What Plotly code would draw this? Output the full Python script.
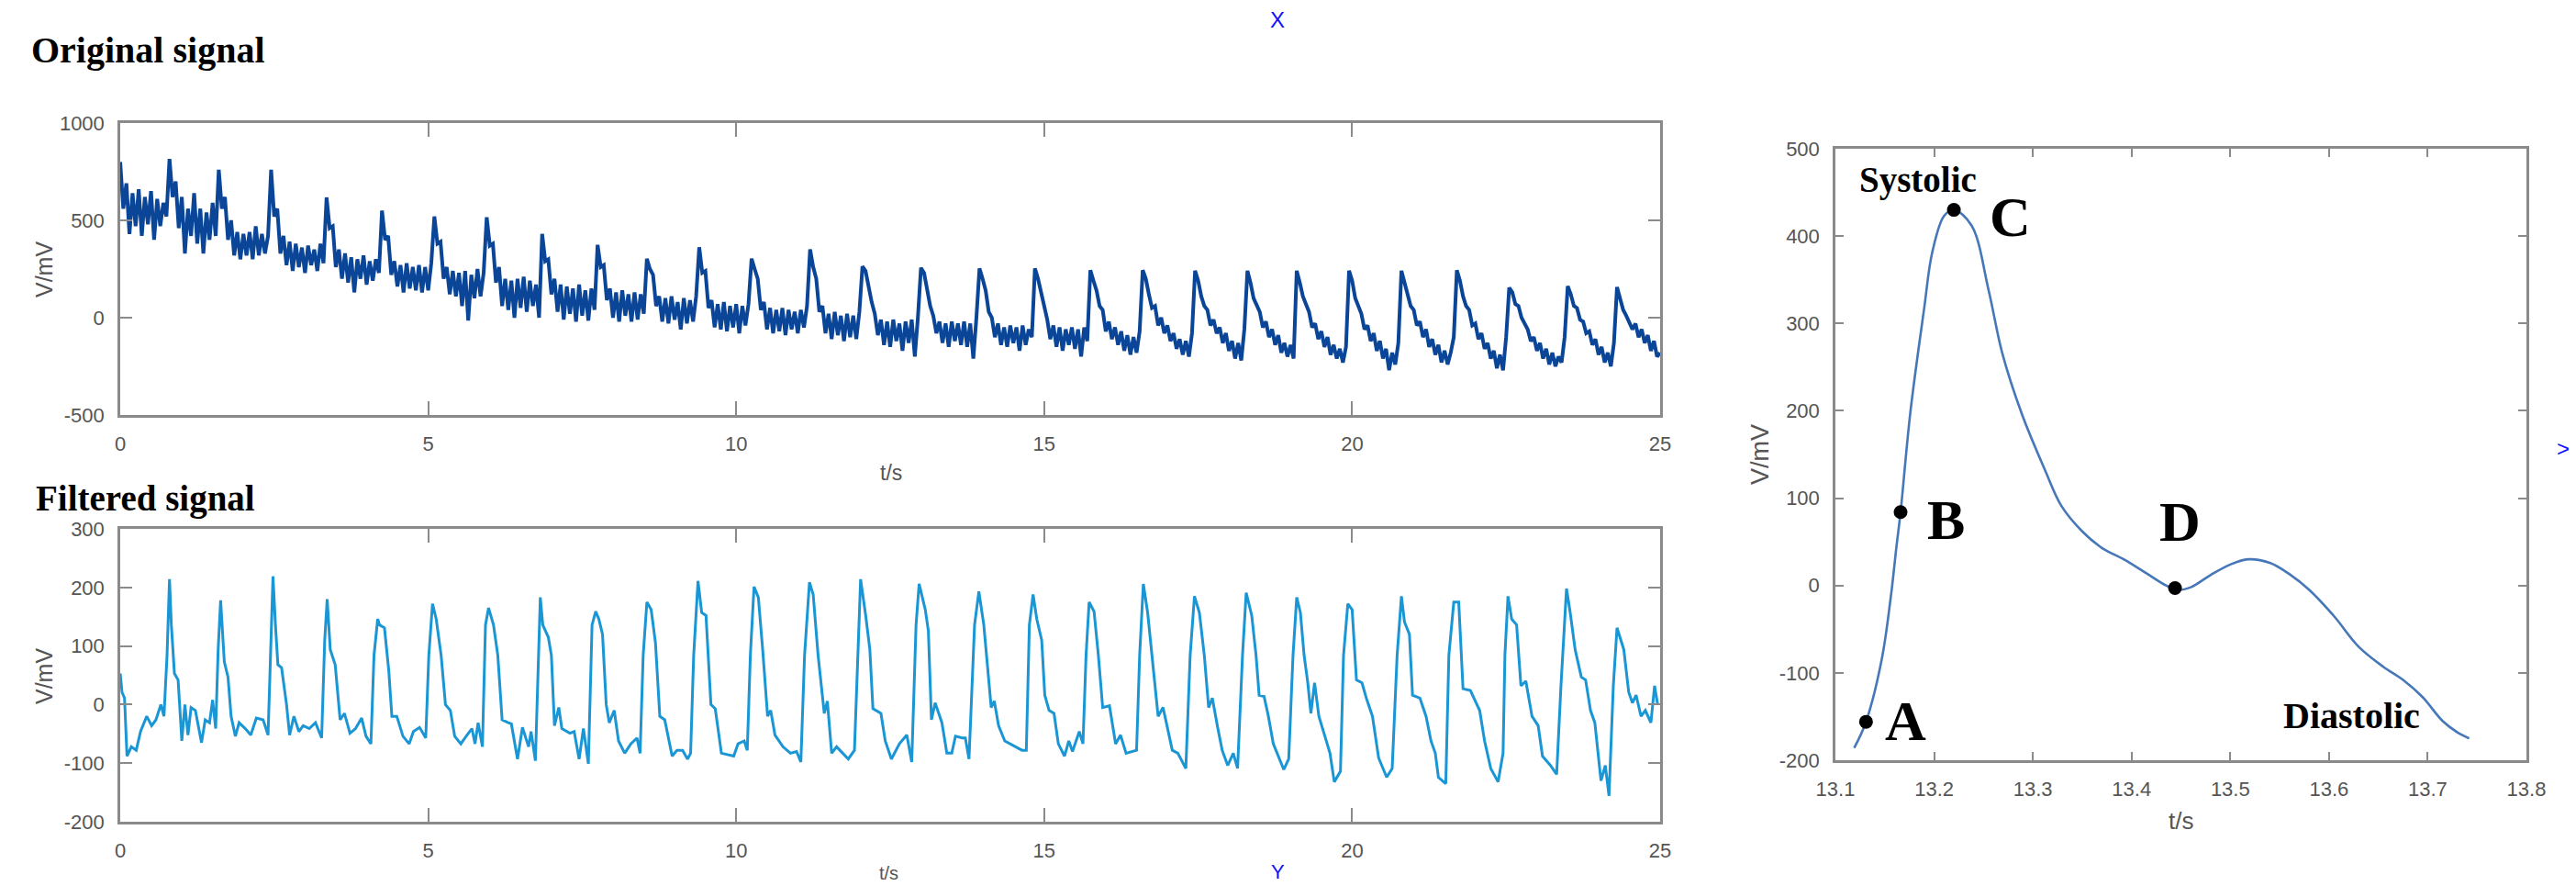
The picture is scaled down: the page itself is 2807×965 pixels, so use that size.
import plotly.graph_objects as go

W, H = 2807, 965

# ---------------- data ----------------
# Original signal: samples every 0.05 s from 0 to 25 s (V/mV)
orig_step = 0.05
orig_v = [
    800, 560, 690, 430, 640, 470, 660, 420, 620, 480, 650, 400, 610, 470, 590, 520,
    815, 620, 700, 460, 620, 330, 560, 420, 640, 380, 560, 330, 540, 400, 590, 420,
    760, 560, 620, 400, 500, 320, 440, 300, 430, 320, 440, 300, 470, 320, 430, 330, 420,
    760, 520, 560, 330, 420, 270, 390, 240, 380, 260, 360, 230, 370, 270, 350, 240, 380, 280,
    618, 460, 470, 260, 350, 200, 330, 180, 310, 130, 300, 200, 320, 170, 290, 190, 300, 230,
    550, 400, 420, 220, 290, 160, 270, 130, 280, 150, 260, 140, 270, 130, 260, 140, 280,
    520, 380, 390, 200, 260, 120, 240, 110, 230, 60, 240, -15, 220, 100, 250, 110, 230,
    516, 370, 380, 180, 260, 60, 200, 40, 190, 0, 200, 50, 210, 30, 190, 60, 170, 0,
    430, 290, 300, 120, 200, 30, 170, -10, 160, 20, 150, -20, 170, 10, 140, -15, 150, 40,
    374, 260, 270, 90, 150, 0, 130, -20, 140, 10, 120, -20, 130, -10, 120, 20,
    303, 250, 220, 60, 110, -20, 100, -30, 110, -10, 80, -60, 100, -30, 90, -20, 110,
    362, 230, 240, 50, 90, -50, 70, -60, 80, -70, 60, -50, 70, -80, 60, -40, 70,
    303, 250, 200, 40, 80, -60, 50, -80, 40, -70, 50, -90, 40, -60, 30, -80, 40, -50, 60,
    351, 260, 200, 30, 60, -80, 20, -110, 30, -90, 10, -120, 20, -100, 10, -110, 30,
    264, 240, 150, 80, 20, -90, -10, -140, -20, -150, -10, -120, -30, -170, -20, -130, -10, -200, 0,
    256, 230, 150, 60, 10, -80, -20, -130, -30, -150, -20, -120, -30, -140, -20, -150, -30, -210, 0,
    253, 200, 140, 30, 0, -100, -30, -140, -50, -150, -40, -130, -50, -170, -40, -140, -60, -100,
    253, 200, 130, 40, -10, -110, -40, -150, -50, -170, -60, -140, -50, -160, -60, -200, -50, -120,
    244, 190, 140, 60, 40, -70, -20, -110, -50, -140, -70, -170, -90, -190, -100, -180, -70,
    244, 200, 120, 50, 60, -40, 0, -80, -40, -120, -80, -160, -110, -190, -120, -200, -80,
    241, 190, 110, 60, 40, -40, -10, -80, -50, -130, -80, -170, -120, -210, -130, -220, -60,
    241, 180, 100, 60, 30, -50, -20, -100, -60, -140, -90, -180, -130, -200, -140, -210,
    241, 180, 110, 70, 30, -50, -30, -110, -70, -150, -100, -190, -140, -210, -160, -230, -150,
    241, 190, 100, 60, 20, -60, -40, -120, -80, -170, -120, -210, -160, -270, -180, -240, -130,
    241, 180, 110, 60, 40, -40, -20, -100, -60, -150, -110, -190, -140, -230, -170, -240, -180, -100,
    244, 190, 110, 60, 40, -40, -30, -110, -80, -160, -130, -210, -170, -260, -190, -270, -100,
    154, 130, 70, 60, 0, -30, -60, -120, -100, -170, -130, -210, -160, -240, -180, -250, -200, -230, -100,
    162, 120, 60, 50, -10, -20, -80, -70, -140, -110, -190, -150, -230, -180, -250, -130,
    157, 100, 40, 10, -20, -60, -30, -100, -60, -130, -90, -170, -120, -200, -180,
]
orig_t = [round(i * orig_step, 2) for i in range(len(orig_v))]

# Filtered signal: time (s) and value (V/mV), one row per beat
filt_t = [
    0.00, 0.03, 0.07, 0.11, 0.18, 0.26, 0.33, 0.43, 0.51, 0.58, 0.66, 0.71,
    0.76, 0.80, 0.83, 0.88, 0.94, 1.00, 1.05, 1.10, 1.15, 1.22, 1.32, 1.38, 1.45, 1.50, 1.55,
    1.59, 1.63, 1.69, 1.75, 1.80, 1.87, 1.93, 2.03, 2.12, 2.21, 2.32, 2.40,
    2.45, 2.48, 2.52, 2.56, 2.62, 2.70, 2.75, 2.82, 2.90, 2.97, 3.07, 3.17, 3.27,
    3.32, 3.36, 3.41, 3.49, 3.57, 3.64, 3.73, 3.82, 3.92, 3.99, 4.07,
    4.12, 4.18, 4.21, 4.29, 4.36, 4.41, 4.49, 4.59, 4.69, 4.76, 4.86, 4.96,
    5.01, 5.07, 5.13, 5.21, 5.28, 5.36, 5.43, 5.53, 5.63, 5.71, 5.76, 5.81, 5.88,
    5.93, 5.98, 6.06, 6.13, 6.20, 6.30, 6.35, 6.45, 6.53, 6.63, 6.67, 6.74,
    6.78, 6.82, 6.86, 6.95, 7.00, 7.05, 7.12, 7.17, 7.30, 7.37, 7.45, 7.52, 7.60,
    7.66, 7.72, 7.77, 7.83, 7.89, 7.94, 8.02, 8.09, 8.19, 8.29, 8.39, 8.44,
    8.49, 8.55, 8.62, 8.69, 8.76, 8.84, 8.96, 9.04, 9.13, 9.21, 9.26,
    9.31, 9.38, 9.44, 9.51, 9.59, 9.66, 9.76, 9.86, 9.96, 10.03, 10.13, 10.18,
    10.23, 10.29, 10.36, 10.43, 10.51, 10.56, 10.63, 10.76, 10.88, 10.98, 11.05,
    11.11, 11.19, 11.25, 11.33, 11.43, 11.48, 11.55, 11.63, 11.73, 11.82, 11.92,
    11.97, 12.02, 12.10, 12.17, 12.22, 12.35, 12.42, 12.52, 12.65, 12.77, 12.85,
    12.92, 12.97, 13.07, 13.12, 13.17, 13.23, 13.29, 13.34, 13.42, 13.50, 13.56, 13.67, 13.72, 13.78,
    13.87, 13.94, 14.02, 14.09, 14.14, 14.19, 14.26, 14.36, 14.51, 14.64, 14.71,
    14.76, 14.82, 14.88, 14.96, 15.01, 15.08, 15.16, 15.23, 15.33, 15.40, 15.46, 15.57, 15.63,
    15.68, 15.73, 15.81, 15.88, 15.95, 16.06, 16.16, 16.24, 16.33, 16.50,
    16.55, 16.61, 16.68, 16.75, 16.85, 16.93, 17.00, 17.08, 17.17, 17.30,
    17.37, 17.44, 17.52, 17.60, 17.67, 17.73, 17.82, 17.89, 17.98, 18.07, 18.14,
    18.22, 18.28, 18.37, 18.44, 18.49, 18.57, 18.64, 18.72, 18.82, 18.89, 18.97,
    19.04, 19.10, 19.16, 19.22, 19.28, 19.33, 19.39, 19.46, 19.56, 19.64, 19.71, 19.81,
    19.86, 19.93, 20.00, 20.07, 20.16, 20.23, 20.33, 20.43, 20.56, 20.65,
    20.73, 20.80, 20.85, 20.93, 20.98, 21.10, 21.20, 21.28, 21.35, 21.40, 21.52,
    21.57, 21.65, 21.73, 21.80, 21.92, 22.07, 22.15, 22.25, 22.37, 22.45,
    22.48, 22.53, 22.59, 22.67, 22.74, 22.82, 22.92, 23.02, 23.09, 23.22, 23.32,
    23.39, 23.48, 23.54, 23.62, 23.72, 23.79, 23.87, 23.94, 24.04, 24.11, 24.17,
    24.24, 24.30, 24.36, 24.41, 24.49, 24.55, 24.61, 24.69, 24.76, 24.85, 24.91, 24.96,
]
filt_v = [
    53, 21, 11, -88, -72, -78, -46, -20, -36, -26, 0, -20,
    84, 214, 136, 53, 42, -62, 0, -52, -5, -10, -65, -26, -31, 8, -41,
    94, 178, 73, 47, -20, -54, -31, -41, -52, -23, -26, -52,
    110, 219, 136, 68, 63, 0, -52, -20, -46, -36, -41, -31, -57,
    110, 180, 94, 68, -26, -15, -49, -41, -23, -54, -67,
    84, 146, 136, 131, 58, -20, -20, -54, -67, -46, -39, -57,
    84, 172, 146, 84, 0, -10, -54, -67, -52, -41, -67, -31, -72,
    136, 165, 136, 84, -26, -31, -33, -93, -39, -72, -46, -96,
    60, 183, 136, 115, 84, -36, -5, -41, -49, -46, -93, -41, -101,
    136, 159, 146, 120, 0, -31, -10, -62, -83, -67, -57, -83,
    84, 175, 162, 105, -20, -26, -88, -78, -78, -93, -83,
    84, 211, 157, 152, 0, -7, -83, -85, -88, -67, -62, -78,
    84, 201, 183, 94, -20, -10, -52, -72, -83, -80, -98,
    84, 209, 188, 84, -15, 6, -83, -72, -83, -93, -78,
    84, 214, 154, 94, -7, -15, -62, -93, -67, -52, -98,
    136, 206, 162, 126, -26, 3, -15, -31, -83, -83, -54, -57, -57, -93,
    136, 193, 136, 58, -5, 6, -36, -62, -70, -78, -78,
    136, 188, 146, 110, 16, -10, -15, -67, -88, -62, -80, -46, -67,
    84, 175, 159, 84, -5, -2, -67, -52, -83, -78,
    84, 206, 157, 84, -20, -5, -41, -78, -83, -109,
    84, 185, 157, 84, -5, 11, -41, -78, -104, -83, -109,
    84, 191, 152, 84, 16, 14, -20, -67, -93, -111, -93,
    84, 183, 157, 84, 37, -15, 37, -20, -57, -83, -132, -114,
    84, 172, 162, 42, 37, 11, -20, -91, -124, -109,
    84, 185, 141, 120, 16, 11, -20, -62, -83, -124, -135,
    84, 175, 175, 27, 24, -10, -62, -109, -132, -83,
    84, 185, 146, 136, 32, 40, -20, -36, -88, -104, -119,
    32, 198, 157, 94, 47, 42, -10, -31, -130, -104, -156,
    32, 131, 110, 94, 21, 3, 16, -20, -10, -31, 32, 0,
]

# Single pulse (right panel)
pulse_t = [13.119, 13.131, 13.147, 13.156, 13.162, 13.166, 13.176, 13.190, 13.198, 13.210,
           13.220, 13.238, 13.255, 13.269, 13.289, 13.312, 13.329, 13.350, 13.370, 13.392,
           13.415, 13.435, 13.446, 13.460, 13.480, 13.500, 13.518, 13.540, 13.560, 13.580,
           13.605, 13.630, 13.655, 13.675, 13.695, 13.715, 13.730, 13.742]
pulse_v = [-186, -156, -84, -14, 46, 84, 199, 318, 381, 423,
           430, 412, 339, 266, 196, 133, 91, 62, 43, 30,
           14, 0, -5, -2, 12, 24, 30, 26, 13, -5,
           -35, -70, -93, -108, -128, -155, -168, -175]

point_names = ["A", "B", "C", "D"]
point_t = [13.131, 13.166, 13.220, 13.444]
point_v = [-156, 84, 430, -3]

# tick labels
main_x_ticks = [0, 5, 10, 15, 20, 25]
orig_y_ticks = [-500, 0, 500, 1000]
orig_y_text = ["-500", "0", "500", "1000"]
filt_y_ticks = [-200, -100, 0, 100, 200, 300]
filt_y_text = ["-200", "-100", "0", "100", "200", "300"]
pulse_x_ticks = [13.1, 13.2, 13.3, 13.4, 13.5, 13.6, 13.7, 13.8]
pulse_x_text = ["13.1", "13.2", "13.3", "13.4", "13.5", "13.6", "13.7", "13.8"]
pulse_y_ticks = [-200, -100, 0, 100, 200, 300, 400, 500]
pulse_y_text = ["-200", "-100", "0", "100", "200", "300", "400", "500"]

assert len(filt_t) == len(filt_v)
assert len(pulse_t) == len(pulse_v)

# ---------------- figure ----------------
def px(x):
    return x / W


def py(y):
    return 1 - y / H


SANS = "Liberation Sans, Arial, sans-serif"
SERIF = "Liberation Serif, Times New Roman, serif"
GRAY = "#8a8a8a"
TXT = "#555555"

fig = go.Figure()
fig.add_trace(go.Scatter(x=orig_t, y=orig_v, mode="lines",
                         line=dict(color="#0a4598", width=4),
                         xaxis="x", yaxis="y", hoverinfo="skip"))
fig.add_trace(go.Scatter(x=filt_t, y=filt_v, mode="lines",
                         line=dict(color="#1a96d4", width=3),
                         xaxis="x2", yaxis="y2", hoverinfo="skip"))
fig.add_trace(go.Scatter(x=pulse_t, y=pulse_v, mode="lines",
                         line=dict(color="#4677b8", width=2.6, shape="spline"),
                         xaxis="x3", yaxis="y3", hoverinfo="skip"))
fig.add_trace(go.Scatter(x=point_t, y=point_v, mode="markers",
                         marker=dict(color="black", size=15),
                         xaxis="x3", yaxis="y3", hoverinfo="skip"))

AX = dict(showline=True, mirror="ticks", linecolor=GRAY, linewidth=2.5,
          ticks="inside", tickcolor=GRAY, tickwidth=2,
          showgrid=False, zeroline=False, automargin=False,
          tickfont=dict(family=SANS, size=22, color=TXT))

fig.update_layout(
    width=W, height=H, margin=dict(l=0, r=0, t=0, b=0, autoexpand=False),
    paper_bgcolor="white", plot_bgcolor="white", showlegend=False,
    xaxis=dict(domain=[px(131), px(1809)], range=[0, 25], anchor="y",
               tickvals=main_x_ticks, ticklen=15, ticklabelstandoff=10, **AX),
    yaxis=dict(domain=[py(452), py(134)], range=[-500, 1000], anchor="x",
               tickvals=orig_y_ticks, ticktext=orig_y_text, ticklen=13,
               ticklabelstandoff=10, **AX),
    xaxis2=dict(domain=[px(131), px(1809)], range=[0, 25], anchor="y2",
                tickvals=main_x_ticks, ticklen=15, ticklabelstandoff=10, **AX),
    yaxis2=dict(domain=[py(895), py(576)], range=[-200, 300], anchor="x2",
                tickvals=filt_y_ticks, ticktext=filt_y_text, ticklen=13,
                ticklabelstandoff=10, **AX),
    xaxis3=dict(domain=[px(2000), px(2753)], range=[13.1, 13.8], anchor="y3",
                tickvals=pulse_x_ticks, ticktext=pulse_x_text, ticklen=9,
                ticklabelstandoff=10, **AX),
    yaxis3=dict(domain=[py(828), py(162)], range=[-200, 500], anchor="x3",
                tickvals=pulse_y_ticks, ticktext=pulse_y_text, ticklen=9,
                ticklabelstandoff=10, **AX),
)


def note(text, x, y, size, family=SANS, color=TXT, angle=0, bold=False):
    if bold:
        text = "<b>" + text + "</b>"
    fig.add_annotation(text=text, x=px(x), y=py(y), xref="paper", yref="paper",
                       xanchor="center", yanchor="middle", showarrow=False,
                       textangle=angle,
                       font=dict(family=family, size=size, color=color))


# panel titles
note("Original signal", 161, 54, 40, SERIF, "black", bold=True)
note("Filtered signal", 158, 543, 39, SERIF, "black", bold=True)
# axis titles
note("V/mV", 48, 294, 25, angle=-90)
note("V/mV", 48, 737, 25, angle=-90)
note("V/mV", 1918, 495, 27, angle=-90)
note("t/s", 971, 515, 23)
note("t/s", 968, 951, 20)
note("t/s", 2376, 894, 26)
# point labels
for name, (lx, ly) in zip(point_names, [(2076, 785), (2120, 566), (2190, 236), (2375, 568)]):
    note(name, lx, ly, 62, SERIF, "black", bold=True)
note("Systolic", 2090, 196, 39, SERIF, "black", bold=True)
note("Diastolic", 2562, 779, 40, SERIF, "black", bold=True)
# blue markers
note("X", 1392, 22, 24, SANS, "#1010ff")
note("Y", 1392, 949, 22, SANS, "#1010ff")
note(">", 2793, 488, 24, SANS, "#1010ff")

fig.write_html(
    "out.html",
    config={"displayModeBar": False},
    post_script="document.body.style.margin='0';document.body.style.overflow='hidden';",
)
